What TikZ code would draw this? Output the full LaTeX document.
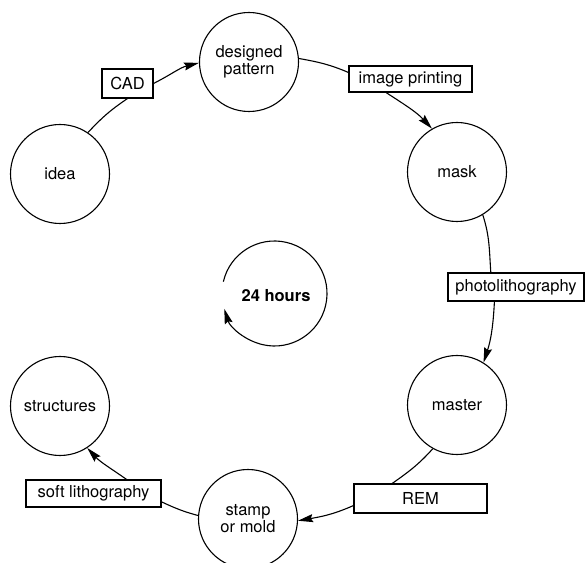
\documentclass[tikz,border=0pt]{standalone}
\usepackage{fontspec}
\setmainfont{TeX Gyre Heros}
\usetikzlibrary{arrows.meta}
\begin{document}
\begin{tikzpicture}[x=1pt,y=1pt,line width=1.1pt,
  stage/.style={circle,draw,minimum size=99pt,inner sep=0pt,align=center,
    font=\fontsize{16.5}{17}\selectfont},
  proc/.style={rectangle,draw,minimum height=28pt,inner sep=2pt,
    font=\fontsize{16.5}{17}\selectfont},
  flow/.style={-{Stealth[length=15pt,width=8pt,inset=2pt]}}]
\useasboundingbox (0,0) rectangle (585,562);

% stages
\node[stage] (idea)       at (60,388)   {idea};
\node[stage] (designed)   at (249,500)  {designed\\pattern};
\node[stage] (mask)       at (457,390)  {mask};
\node[stage] (master)     at (457,157)  {master};
\node[stage] (stamp)      at (248,43)   {stamp\\or mold};
\node[stage] (structures) at (60,156)   {structures};

% processes
\node[proc,minimum width=51pt,minimum height=29pt]  (cad) at (127.5,478.5) {CAD};
\node[proc,minimum width=123pt,minimum height=26pt] (ip)  at (410.5,483)   {image printing};
\node[proc,minimum width=136pt]                     (pl)  at (516,275)     {photolithography};
\node[proc,minimum width=133pt,minimum height=29pt] (rem) at (420.5,63.5)  {REM};
\node[proc,minimum width=135pt,minimum height=27pt] (sl)  at (93.5,68.5)   {soft lithography};

% cycle connectors
\draw (idea.56) to[out=47,in=214] (cad.south);
\draw[flow] (cad.east) to[out=27,in=194] (designed.181);
\draw (designed.4) to[out=-10,in=157] (ip.174);
\draw[flow] (ip.209) to[out=-33,in=133] (mask.120);
\draw (mask.-59) to[out=-72,in=94] (pl.150);
\draw[flow] (pl.214) to[out=267,in=72] (master.58);
\draw (master.241) to[out=228,in=35] (rem.152);
\draw[flow] (rem.186) to[out=204,in=10] (stamp.-2);
\draw (stamp.176) to[out=165,in=-25] (sl.-7);
\draw[flow] (sl.23) to[out=145,in=-47] (structures.-57);

% 24 hours
\node[font=\bfseries\fontsize{16.5}{17}\selectfont] (hours) at (276,266) {24 hours};
\coordinate (hc) at (274.5,268.5);
\draw[flow] ([shift={(167:52.5)}]hc) arc[start angle=167,end angle=-163,radius=52.5];
\end{tikzpicture}
\end{document}
